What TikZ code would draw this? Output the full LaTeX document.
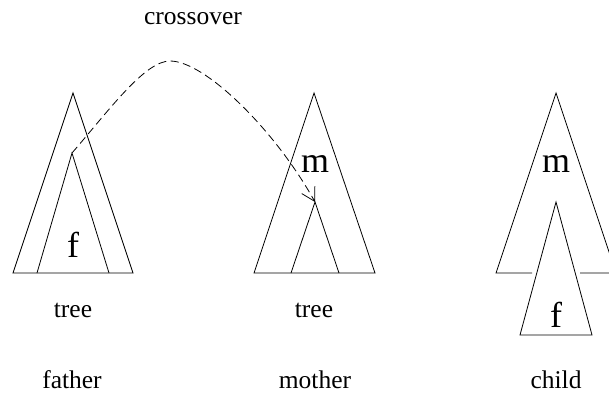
\documentclass[tikz,border=0pt]{standalone}
\usepackage{fontspec}
\setmainfont{Liberation Serif}
\usetikzlibrary{arrows.meta}
\begin{document}
\begin{tikzpicture}[x=1pt,y=-1pt,
  treeline/.style={line width=0.8pt,line join=miter},
  lbl/.style={anchor=base,inner sep=0pt,font=\fontsize{25.5}{28}\selectfont},
  big/.style={anchor=base,inner sep=0pt,font=\fontsize{36}{40}\selectfont},
  xover/.style={line width=0.8pt,dash pattern=on 8pt off 4.5pt,
    -{Straight Barb[length=13pt,width=15pt,line width=0.8pt]}}]
\useasboundingbox (0,0) rectangle (609,396);
% father
\coordinate (fa) at (73,93);
\coordinate (fi) at (72,153);
\draw[treeline] (13,273) -- (fa) -- (133,273) -- cycle;
\draw[treeline] (37,273) -- (fi) -- (109,273);
\node[big] (ff) at (73,257) {f};
% mother
\coordinate (ma) at (314,93);
\coordinate (mi) at (315,202);
\draw[treeline] (254,273) -- (ma) -- (375,273) -- cycle;
\draw[treeline] (291,273) -- (mi) -- (339,273);
\node[big] (mm) at (315,172) {m};
% child
\coordinate (ca) at (556,93);
\coordinate (ci) at (556,202);
\draw[treeline] (532,273) -- (496,273) -- (ca) -- (616,273) -- (580,273);
\draw[treeline] (ci) -- (520,335) -- (592,335) -- cycle;
\node[big] (cm) at (556,172) {m};
\node[big] (cf) at (556,327) {f};
% labels
\node[lbl] (crossover) at (193,25) {crossover};
\node[lbl] (t1) at (73,317) {tree};
\node[lbl] (t2) at (314,317) {tree};
\node[lbl] (father) at (72,388) {father};
\node[lbl] (mother) at (315,388) {mother};
\node[lbl] (child) at (556,388) {child};
% crossover arrow
\coordinate (peak) at (170,61);
\draw[xover] (fi) .. controls (110,109) and (145,61) .. (peak)
  .. controls (205,61) and (275,130) .. (mi);
\end{tikzpicture}
\end{document}
